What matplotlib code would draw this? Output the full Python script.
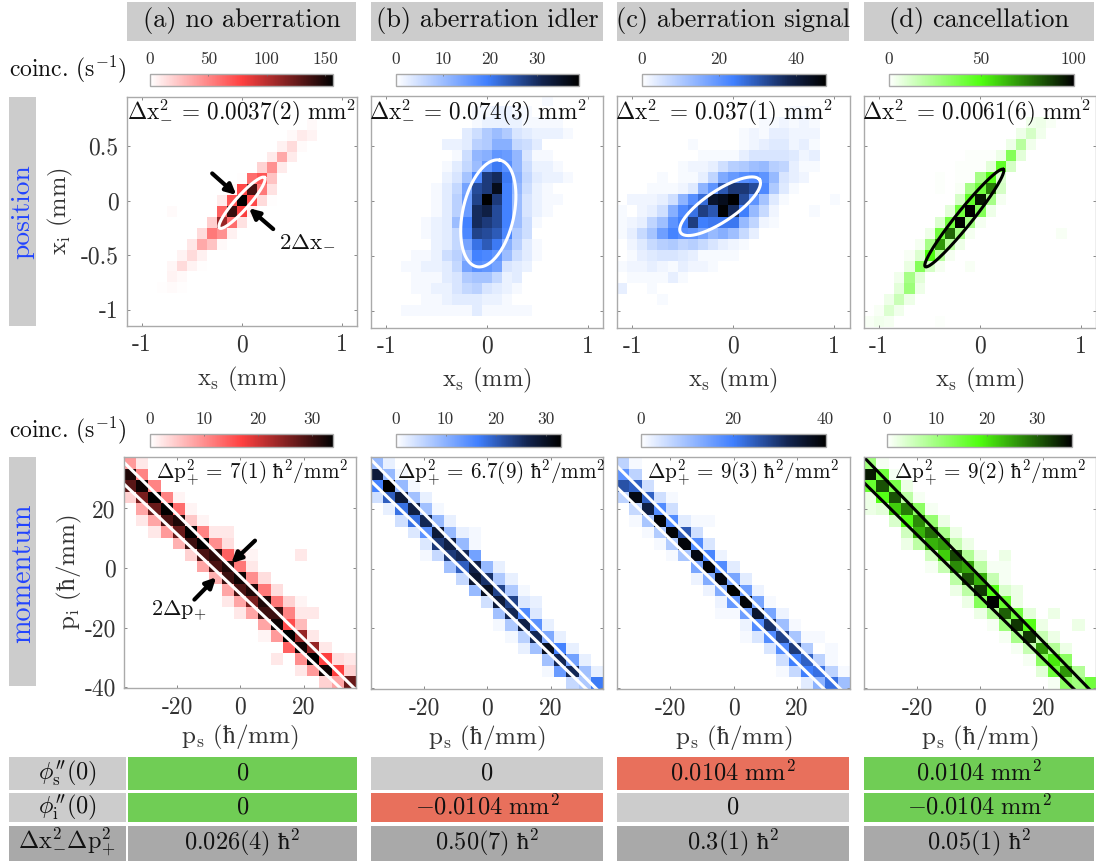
import numpy as np
import matplotlib
matplotlib.use("Agg")
import matplotlib.pyplot as plt
from matplotlib.cm import ScalarMappable
from matplotlib.colors import LinearSegmentedColormap, Normalize
from matplotlib.patches import Rectangle

plt.rcParams['font.family'] = ['cmr10', 'DejaVu Sans']
plt.rcParams['mathtext.fontset'] = 'cm'
plt.rcParams['axes.unicode_minus'] = False

# each grid: row -> (first column, counts)
pos_a = {2: (18, [3]), 3: (16, [3, 8, 5]), 4: (15, [6, 15, 2]), 5: (14, [8, 35, 8]), 6: (13, [18, 45, 8]),
         7: (11, [1, 60, 70, 25]), 8: (10, [3, 75, 135, 55, 12]), 9: (9, [8, 70, 160, 75, 15, 1]),
         10: (4, [2, 0, 0, 0, 0, 65, 140, 80, 5]), 11: (8, [20, 110, 60, 12]), 12: (7, [15, 55, 45, 6]),
         13: (6, [10, 35, 25, 3]), 14: (5, [5, 15, 6]), 15: (4, [4, 15, 5, 1]), 16: (4, [5, 3]), 17: (3, [1, 2, 1])}
pos_b = {0: (17, [1]), 1: (10, [1, 1, 2, 2, 1, 1]), 2: (10, [1, 2, 2, 2, 2, 1, 1, 1, 1]),
         3: (9, [3, 5, 8, 10, 8, 4, 3, 2, 2, 2, 1]), 4: (7, [2, 2, 3, 7, 8, 12, 12, 6, 5, 3]),
         5: (8, [1, 5, 11, 12, 16, 15, 11, 4, 1, 1]), 6: (7, [1, 3, 6, 10, 16, 20, 17, 11, 5, 2, 2, 1]),
         7: (7, [2, 4, 9, 18, 28, 30, 20, 12, 6, 3, 2, 2, 1]), 8: (6, [1, 3, 6, 14, 26, 28, 36, 19, 11, 5, 2, 1]),
         9: (6, [1, 3, 7, 15, 27, 40, 28, 19, 10, 4, 2, 1, 1]), 10: (6, [1, 3, 7, 15, 30, 32, 26, 19, 10, 4, 2, 1]),
         11: (5, [1, 2, 3, 10, 19, 30, 28, 26, 19, 10, 5, 1]), 12: (5, [1, 2, 3, 6, 18, 27, 26, 24, 18, 8, 5]),
         13: (6, [2, 3, 6, 14, 21, 24, 20, 12, 7, 3, 1]), 14: (4, [1, 1, 2, 5, 7, 11, 19, 18, 16, 10, 5, 3, 1]),
         15: (3, [1, 1, 2, 2, 3, 6, 14, 17, 16, 14, 4, 3, 2]), 16: (4, [1, 1, 1, 3, 4, 8, 9, 9, 6, 2, 3]),
         17: (4, [1, 1, 2, 2, 4, 6, 7, 4, 3, 2, 1]), 18: (5, [1, 1, 2, 3, 3, 3, 2, 2, 1]),
         19: (3, [1, 1, 1, 1, 1, 1, 1, 3, 1, 1, 1, 1, 1])}
pos_c = {1: (17, [1, 1]), 2: (14, [1, 1, 2, 1, 2, 1]), 3: (12, [1, 2, 1, 3, 3, 2, 2, 2]),
         4: (7, [1, 0, 0, 0, 0, 1, 2, 3, 4, 4, 2, 3, 1]), 5: (8, [1, 1, 1, 1, 3, 5, 5, 5, 5, 4, 2, 3]),
         6: (6, [1, 2, 2, 3, 6, 9, 10, 12, 13, 9, 8, 3, 1, 1]),
         7: (4, [1, 0, 1, 1, 3, 8, 16, 19, 21, 22, 20, 13, 5, 3, 2]),
         8: (3, [1, 1, 1, 2, 4, 14, 20, 30, 35, 35, 32, 22, 10, 4, 1]),
         9: (1, [2, 2, 2, 3, 6, 14, 21, 27, 42, 44, 48, 32, 20, 11, 4, 1, 0, 0, 0, 0, 1]),
         10: (0, [1, 0, 2, 3, 6, 15, 22, 26, 34, 30, 47, 37, 24, 13, 7, 2, 0, 0, 0, 1]),
         11: (0, [1, 2, 3, 8, 12, 20, 24, 34, 24, 25, 25, 25, 13, 8, 2, 1]),
         12: (0, [1, 3, 7, 11, 18, 23, 21, 20, 17, 13, 15, 12, 7, 3]),
         13: (1, [2, 4, 7, 9, 10, 8, 9, 7, 5, 3, 2, 1]), 14: (1, [1, 3, 4, 5, 5, 4, 3, 1, 1, 1, 1]),
         15: (0, [1, 2, 2, 3, 2, 1, 3, 2, 2, 1]), 16: (1, [1, 1, 1, 1, 3, 1]), 17: (0, [3, 0, 0, 1]), 18: (4, [1])}
pos_d = {2: (16, [4, 5, 2]), 3: (15, [5, 12, 4]), 4: (14, [5, 20, 4]), 5: (10, [1, 1, 1, 5, 35, 8]),
         6: (9, [1, 1, 1, 8, 45, 12]), 7: (7, [1, 0, 1, 1, 25, 48, 10]), 8: (7, [1, 0, 2, 25, 40, 75, 12]),
         9: (9, [12, 45, 95, 25, 3]), 10: (8, [8, 40, 100, 35, 5]), 11: (7, [10, 40, 100, 25, 3]),
         12: (6, [5, 40, 80, 25, 3, 0, 0, 0, 0, 0, 0, 0, 0, 2]), 13: (5, [3, 25, 70, 20, 5]),
         14: (4, [2, 10, 50, 20, 3]), 15: (4, [6, 35, 12, 3, 0, 0, 2]), 16: (3, [4, 25, 8]), 17: (3, [8, 28, 5]),
         18: (2, [5, 15, 5]), 19: (1, [2, 10, 4]), 20: (0, [2, 4, 3, 0, 0, 0, 0, 1])}

mom_a = {0: (0, [9, 2]), 1: (0, [32, 11]), 2: (0, [28, 33, 11]), 3: (0, [4, 26, 34, 11, 1]), 4: (1, [8, 27, 34, 13, 1]),
         5: (1, [2, 8, 29, 32, 5, 1]), 6: (2, [2, 9, 27, 34, 11, 2, 2]), 7: (4, [7, 30, 34, 10, 3]),
         8: (5, [4, 29, 31, 14, 3, 1, 0, 0, 0, 2]), 9: (6, [8, 29, 32, 12, 2]), 10: (7, [7, 30, 33, 10, 3]),
         11: (8, [8, 29, 32, 12, 3]), 12: (8, [2, 8, 26, 32, 12, 4, 1]), 13: (9, [2, 8, 30, 30, 11, 2, 2]),
         14: (11, [8, 33, 16, 6]), 15: (11, [1, 9, 34, 24, 2]), 16: (13, [14, 33, 24, 2]),
         17: (12, [2, 0, 10, 34, 17, 3, 2]), 18: (14, [2, 9, 33, 17, 4]), 19: (16, [4, 8, 27])}
mom_b = {0: (0, [9, 2]), 1: (0, [28, 9, 1]), 2: (0, [16, 33, 9, 1]), 3: (0, [4, 20, 28, 8, 2]), 4: (1, [2, 18, 27, 8, 1]),
         5: (2, [4, 18, 26, 9, 2]), 6: (3, [3, 14, 28, 9, 2, 1]), 7: (4, [3, 24, 27, 9, 1]), 8: (4, [1, 5, 24, 26, 12]),
         9: (6, [8, 20, 27, 9, 2]), 10: (7, [5, 29, 25, 7, 2]), 11: (8, [9, 30, 23, 7, 1]), 12: (9, [4, 28, 23, 3, 2]),
         13: (10, [8, 26, 15, 3]), 14: (10, [1, 7, 27, 14, 2]), 15: (11, [1, 6, 26, 11, 2]), 16: (12, [2, 8, 30, 16, 2]),
         17: (14, [8, 26, 12, 2]), 18: (14, [1, 13, 26, 8, 2]), 19: (16, [5, 7, 17])}
mom_c = {0: (0, [7, 1]), 1: (0, [17, 7]), 2: (0, [26, 24, 5]), 3: (0, [7, 38, 24, 5, 1]), 4: (1, [6, 33, 18, 5]),
         5: (1, [1, 9, 39, 18, 3, 1, 1]), 6: (2, [1, 8, 39, 25, 5]), 7: (3, [1, 8, 39, 18, 4]), 8: (4, [1, 9, 38, 19, 2]),
         9: (6, [14, 39, 18, 3]), 10: (6, [2, 13, 38, 14, 3]), 11: (7, [2, 13, 40, 15, 2]), 12: (8, [2, 16, 39, 14, 1]),
         13: (8, [1, 1, 15, 35, 14, 2]), 14: (10, [2, 18, 30, 10, 1]), 15: (10, [1, 4, 18, 28, 9, 1, 1]),
         16: (12, [4, 18, 29, 8, 0, 1]), 17: (13, [5, 20, 24, 7, 1]), 18: (13, [1, 6, 20, 22, 7, 1]), 19: (15, [3, 12, 22, 10])}
mom_d = {0: (0, [10, 1]), 1: (0, [35, 15, 1]), 2: (0, [16, 31, 14, 2]), 3: (0, [2, 18, 31, 7, 1]), 4: (0, [2, 3, 22, 28, 12, 1]),
         5: (2, [4, 18, 27, 11, 2]), 6: (3, [5, 24, 29, 9, 2]), 7: (3, [2, 7, 24, 26, 6, 2]),
         8: (5, [5, 22, 32, 8, 2, 0, 2]), 9: (5, [1, 6, 27, 25, 7, 1, 1]), 10: (7, [7, 31, 24, 6, 1]),
         11: (7, [2, 7, 33, 18, 4, 2]), 12: (8, [2, 13, 37, 16, 2]), 13: (9, [2, 8, 30, 15, 3, 0, 2]),
         14: (10, [1, 10, 33, 18, 2, 0, 0, 2]), 15: (11, [1, 9, 33, 6, 2]), 16: (12, [1, 6, 26, 8, 2]),
         17: (13, [1, 12, 20, 12]), 18: (14, [3, 15, 26, 8]), 19: (15, [1, 12, 10, 15])}

# colour bar ranges and ticks
pos_vmax = [157, 38.7, 47.7, 100]
pos_cticks = [[0, 50, 100, 150], [0, 10, 20, 30], [0, 20, 40], [0, 50, 100]]
mom_vmax = [34, 33, 40, 37]
mom_cticks = [[0, 10, 20, 30], [0, 10, 20, 30], [0, 20, 40], [0, 10, 20, 30]]

# ellipses: centre, major semi axis, minor semi axis (mm)
pos_centre = [(0.0, -0.02), (0.013, -0.115), (-0.13, -0.05), (-0.153, -0.157)]
pos_major = [(0.226, 0.231), (0.116, 0.483), (0.39, 0.24), (0.386, 0.441)]
pos_minor = [(-0.047, 0.045), (0.248, -0.05), (0.086, -0.115), (0.061, -0.045)]
# width lines in momentum: slope, intercept of upper and lower
mom_upper = [(-1.04, -2.9), (-1.074, -3.2), (-1.055, -4.7), (-1.089, -2.8)]
mom_lower = [(-1.0, -8.7), (-1.02, -8.4), (-1.03, -10.9), (-1.04, -9.5)]

HB = r'\mathrm{ħ}'
pos_text = [r'$\Delta\mathrm{x}_{-}^{2}\,=\,0.0037(2)\ \mathrm{mm}^{2}$', r'$\Delta\mathrm{x}_{-}^{2}\,=\,0.074(3)\ \mathrm{mm}^{2}$',
            r'$\Delta\mathrm{x}_{-}^{2}\,=\,0.037(1)\ \mathrm{mm}^{2}$', r'$\Delta\mathrm{x}_{-}^{2}\,=\,0.0061(6)\ \mathrm{mm}^{2}$']
mom_text = [r'$\Delta\mathrm{p}_{+}^{2}\,=\,7(1)\ ' + HB + r'^{2}/\mathrm{mm}^{2}$', r'$\Delta\mathrm{p}_{+}^{2}\,=\,6.7(9)\ ' + HB + r'^{2}/\mathrm{mm}^{2}$',
            r'$\Delta\mathrm{p}_{+}^{2}\,=\,9(3)\ ' + HB + r'^{2}/\mathrm{mm}^{2}$', r'$\Delta\mathrm{p}_{+}^{2}\,=\,9(2)\ ' + HB + r'^{2}/\mathrm{mm}^{2}$']
titles = ['(a) no aberration', '(b) aberration idler', '(c) aberration signal', '(d) cancellation']

phi_s = [r'$0$', r'$0$', r'$0.0104\ \mathrm{mm}^{2}$', r'$0.0104\ \mathrm{mm}^{2}$']
phi_i = [r'$0$', r'$-0.0104\ \mathrm{mm}^{2}$', r'$0$', r'$-0.0104\ \mathrm{mm}^{2}$']
product = [r'$0.026(4)\ ' + HB + r'^{2}$', r'$0.50(7)\ ' + HB + r'^{2}$', r'$0.3(1)\ ' + HB + r'^{2}$', r'$0.05(1)\ ' + HB + r'^{2}$']

W, H = 1096, 861
GREY, DARK, GREEN, RED = '#cccccc', '#a9a9a9', '#70cd55', '#e8705c'
FRAME = '#aaaaaa'

red = LinearSegmentedColormap.from_list('r', ['#ffffff', '#ff4040', '#000000'])
blue = LinearSegmentedColormap.from_list('b', [(0, '#ffffff'), (0.5, '#4080ff'), (0.8, '#12244f'), (1, '#000000')])
green = LinearSegmentedColormap.from_list('g', ['#ffffff', '#50ff10', '#000000'])
cmaps = [red, blue, blue, green]

fig = plt.figure(figsize=(W / 100, H / 100), dpi=100)


def to_grid(bands, nrows, ncols):
    grid = np.zeros((nrows, ncols))
    for row, (first, values) in bands.items():
        grid[row, first:first + len(values)] = values
    return grid


def px_axes(x0, y0, x1, y1):
    return fig.add_axes([x0 / W, 1 - y1 / H, (x1 - x0) / W, (y1 - y0) / H])


def box(x0, y0, x1, y1, color):
    fig.add_artist(Rectangle((x0 / W, 1 - y1 / H), (x1 - x0) / W, (y1 - y0) / H, transform=fig.transFigure,
                             facecolor=color, edgecolor='none', zorder=0))


def label(x, y, s, **kw):
    kw.setdefault('ha', 'center')
    kw.setdefault('va', 'center')
    kw.setdefault('fontsize', 17.5)
    kw.setdefault('color', '#111111')
    fig.text(x / W, 1 - y / H, s, zorder=6, **kw)


def style(ax):
    for s in ax.spines.values():
        s.set_color(FRAME)
        s.set_linewidth(1.0)
    ax.tick_params(direction='in', length=2.5, width=0.7, color='#888888', top=True, right=True,
                   labelsize=17, labelcolor='#333333', pad=6)


def cbar(rect, cmap, vmax, ticks):
    cax = px_axes(*rect)
    cb = fig.colorbar(ScalarMappable(Normalize(0, vmax), cmap), cax=cax, orientation='horizontal')
    cb.set_ticks(ticks)
    cb.set_ticklabels([str(t) for t in ticks])
    cax.xaxis.set_ticks_position('top')
    cax.tick_params(direction='in', length=1.5, width=0.5, color='#666666', labelsize=12.5, labelcolor='#333333', pad=5)
    cb.outline.set_edgecolor(FRAME)
    cb.outline.set_linewidth(1.0)


def arrow(ax, tip, tail):
    ax.annotate('', xy=tip, xytext=tail,
                arrowprops=dict(arrowstyle='-|>', color='black', lw=3, mutation_scale=15, shrinkA=0, shrinkB=0))


head_x = [(127, 356), (371, 603), (617, 849), (864, 1094)]
pos_rect = [(127, 97, 357, 326), (371, 96, 603, 327.5), (617, 96, 849.5, 327.5), (863.5, 96, 1096, 327.5)]
mom_rect = [(124, 457, 356, 688), (371, 457, 603, 689), (617, 457, 849.5, 689), (863.5, 457, 1096, 689)]
pos_cbar = [(150, 73.5, 333.5, 86), (395.5, 73.5, 578.5, 85.5), (641.5, 73.5, 825.5, 85.5), (888.5, 73.5, 1073.5, 85.5)]
mom_cbar = [(150, 434, 333.5, 447), (395.5, 434, 560.5, 447), (640.5, 434, 825.5, 447), (886.5, 434, 1071.5, 447)]
pos_text_x = [242, 478, 724, 977]
mom_text_x = [252, 501, 743, 990]

pos_grids = [to_grid(b, 21, 23) for b in (pos_a, pos_b, pos_c, pos_d)]
mom_grids = [to_grid(b, 20, 19) for b in (mom_a, mom_b, mom_c, mom_d)]

for i in range(4):
    box(head_x[i][0], 2, head_x[i][1], 41, GREY)
    label(sum(head_x[i]) / 2, 21, titles[i], fontsize=19)

    # position panel
    ax = px_axes(*pos_rect[i])
    ax.imshow(pos_grids[i], cmap=cmaps[i], vmin=0, vmax=pos_vmax[i], extent=(-1.15, 1.15, -1.15, 0.95),
              aspect='auto', interpolation='nearest')
    t = np.linspace(0, 2 * np.pi, 200)
    ex = pos_centre[i][0] + pos_major[i][0] * np.cos(t) + pos_minor[i][0] * np.sin(t)
    ey = pos_centre[i][1] + pos_major[i][1] * np.cos(t) + pos_minor[i][1] * np.sin(t)
    ax.plot(ex, ey, color='black' if i == 3 else 'white', lw=2.2)
    ax.set_xlim(-1.15, 1.15)
    ax.set_ylim(-1.15, 0.95)
    ax.set_xticks([-1, 0, 1], labels=['-1', '0', '1'])
    ax.set_yticks([-1, -0.5, 0, 0.5], labels=['-1', '-0.5', '0', '0.5'] if i == 0 else [])
    style(ax)
    ax.set_xlabel(r'$\mathrm{x_s}$ (mm)', fontsize=17.6, color='#333333', labelpad=6)
    if i == 0:
        ax.set_ylabel(r'$\mathrm{x_i}$ (mm)', fontsize=17.6, color='#333333', labelpad=4)
        arrow(ax, (-0.057, 0.052), (-0.298, 0.249))
        arrow(ax, (0.07, -0.07), (0.312, -0.261))
        ax.text(0.37, -0.36, r'$2\Delta\mathrm{x}_{-}$', fontsize=16.5, color='#111111', va='center')
    label(pos_text_x[i], 113, pos_text[i], fontsize=16.7)
    cbar(pos_cbar[i], cmaps[i], pos_vmax[i], pos_cticks[i])

    # momentum panel
    ax = px_axes(*mom_rect[i])
    ax.imshow(mom_grids[i], cmap=cmaps[i], vmin=0, vmax=mom_vmax[i], extent=(-36.9, 36.6, -40.3, 37.3),
              aspect='auto', interpolation='nearest')
    line_x = np.array([-36.9, 36.6])
    line_col = 'black' if i == 3 else 'white'
    for slope, inter in (mom_upper[i], mom_lower[i]):
        ax.plot(line_x, slope * line_x + inter, color=line_col, lw=2.2)
    ax.set_xlim(-36.9, 36.6)
    ax.set_ylim(-40.3, 37.3)
    ax.set_xticks([-20, 0, 20], labels=['-20', '0', '20'])
    ax.set_yticks([-40, -20, 0, 20], labels=['-40', '-20', '0', '20'] if i == 0 else [])
    style(ax)
    ax.set_xlabel(r'$\mathrm{p_s}$ ($' + HB + r'$/mm)', fontsize=18, color='#333333', labelpad=3)
    if i == 0:
        ax.set_ylabel(r'$\mathrm{p_i}$ ($' + HB + r'$/mm)', fontsize=18, color='#333333', labelpad=0)
        arrow(ax, (-2.9, 1.6), (4.6, 9.2))
        arrow(ax, (-7.7, -3.1), (-14.6, -10.6))
        ax.text(-28.5, -14.5, r'$2\Delta\mathrm{p}_{+}$', fontsize=16, color='#111111', va='center')
    label(mom_text_x[i], 473, mom_text[i], fontsize=15.2)
    cbar(mom_cbar[i], cmaps[i], mom_vmax[i], mom_cticks[i])

    # table columns
    tx0, tx1 = head_x[i]
    if i == 0:
        tx0, tx1 = 128, 357
    mid = (tx0 + tx1) / 2
    c_s = GREEN if i in (0, 3) else (RED if i == 2 else GREY)
    c_i = GREEN if i in (0, 3) else (RED if i == 1 else GREY)
    box(tx0, 757, tx1, 790, c_s)
    box(tx0, 793, tx1, 822, c_i)
    box(tx0, 826, tx1, 861, DARK)
    label(mid, 773, phi_s[i])
    label(mid, 807, phi_i[i])
    label(mid, 842, product[i])

# row and side labels
box(9, 97, 36, 326, GREY)
box(9, 457, 36, 686, GREY)
label(22.5, 212, 'position', rotation=90, color='#2244ff', fontsize=19.8)
label(22.5, 573, 'momentum', rotation=90, color='#2244ff', fontsize=20.3)
label(68, 69, r'coinc. (s$^{-1}$)', fontsize=17)
label(68, 430, r'coinc. (s$^{-1}$)', fontsize=17)

box(9, 757, 126, 790, GREY)
box(9, 793, 126, 822, GREY)
box(9, 826, 126, 861, DARK)
label(67, 773, r"$\phi_{\mathrm{s}}^{\prime\prime}(0)$")
label(67, 807, r"$\phi_{\mathrm{i}}^{\prime\prime}(0)$")
label(67, 842, r'$\Delta\mathrm{x}_{-}^{2}\Delta\mathrm{p}_{+}^{2}$')

fig.savefig('out.png', dpi=100)
